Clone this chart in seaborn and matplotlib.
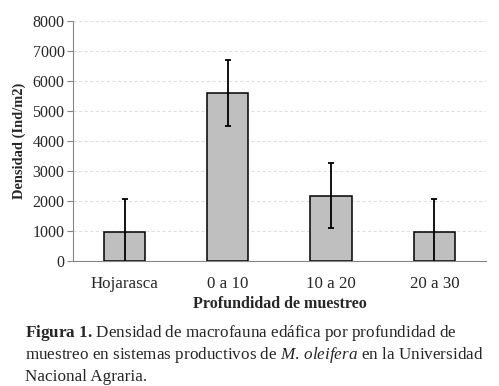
import numpy as np
import pandas as pd
import seaborn as sns
import matplotlib.pyplot as plt

# Data
categorias = ['Hojarasca', '0 a 10', '10 a 20', '20 a 30']
densidad = [950, 5600, 2180, 950]
error = [1110, 1100, 1090, 1110]
yticks = [0, 1000, 2000, 3000, 4000, 5000, 6000, 7000, 8000]

sns.set_style('white')
plt.rcParams['font.family'] = ['Liberation Serif', 'DejaVu Serif']
plt.rcParams['mathtext.fontset'] = 'custom'
plt.rcParams['mathtext.rm'] = 'Liberation Serif'
plt.rcParams['mathtext.it'] = 'Liberation Serif:italic'
plt.rcParams['mathtext.bf'] = 'Liberation Serif:bold'

df = pd.DataFrame({'Profundidad': categorias, 'Densidad': densidad})

fig = plt.figure(figsize=(4.99, 3.86), dpi=100)
ax = fig.add_axes([0.146, 0.324, 0.828, 0.622])

sns.barplot(data=df, x='Profundidad', y='Densidad', ax=ax, width=0.4,
            color='#BFBFBF', saturation=1, edgecolor='black', linewidth=1.1)

# Error bars (lower bound is clipped by the axis)
ax.errorbar(np.arange(len(categorias)), densidad, yerr=error, fmt='none',
            ecolor='black', elinewidth=1.3, capsize=2.5, capthick=1.3,
            zorder=5)

ax.set_ylim(0, 8000)
ax.set_xlim(-0.5, len(categorias) - 0.5)
ax.set_yticks(yticks)
ax.set_yticklabels([str(t) for t in yticks], fontsize=11.5)
ax.yaxis.grid(True, color='#E0E0E0', linestyle=(0, (3, 2)), linewidth=0.8)
ax.set_axisbelow(True)

# Category ticks sit between the bars
ax.set_xticks(np.arange(len(categorias)))
ax.set_xticklabels(categorias, fontsize=12.2)
ax.set_xticks(np.arange(-0.5, len(categorias)), minor=True)
ax.tick_params(axis='x', which='major', length=0, pad=11)
ax.tick_params(axis='x', which='minor', length=4, color='#868686',
               direction='out', width=0.8)
ax.tick_params(axis='y', length=4, color='#868686', direction='out',
               width=0.8, pad=2, left=True)

for side in ['top', 'right']:
    ax.spines[side].set_visible(False)
for side in ['left', 'bottom']:
    ax.spines[side].set_color('#868686')
    ax.spines[side].set_linewidth(0.8)

ax.set_xlabel('Profundidad de muestreo', fontsize=11.5, fontweight='bold',
              labelpad=3)
ax.set_ylabel('Densidad (Ind/m2)', fontsize=10.4, fontweight='bold',
              labelpad=5)

# Caption under the chart
caption = [
    r'$\mathbf{Figura\ 1.\,}$Densidad de macrofauna edáfica por profundidad de',
    r'muestreo en sistemas productivos de $\mathit{M.\,oleifera}$ en la Universidad',
    'Nacional Agraria.',
]
for i, linea in enumerate(caption):
    fig.text(0.05, 1 - (337 + 22 * i) / 386, linea, fontsize=12.3,
             ha='left', va='baseline')

fig.savefig('out.png', dpi=100)
